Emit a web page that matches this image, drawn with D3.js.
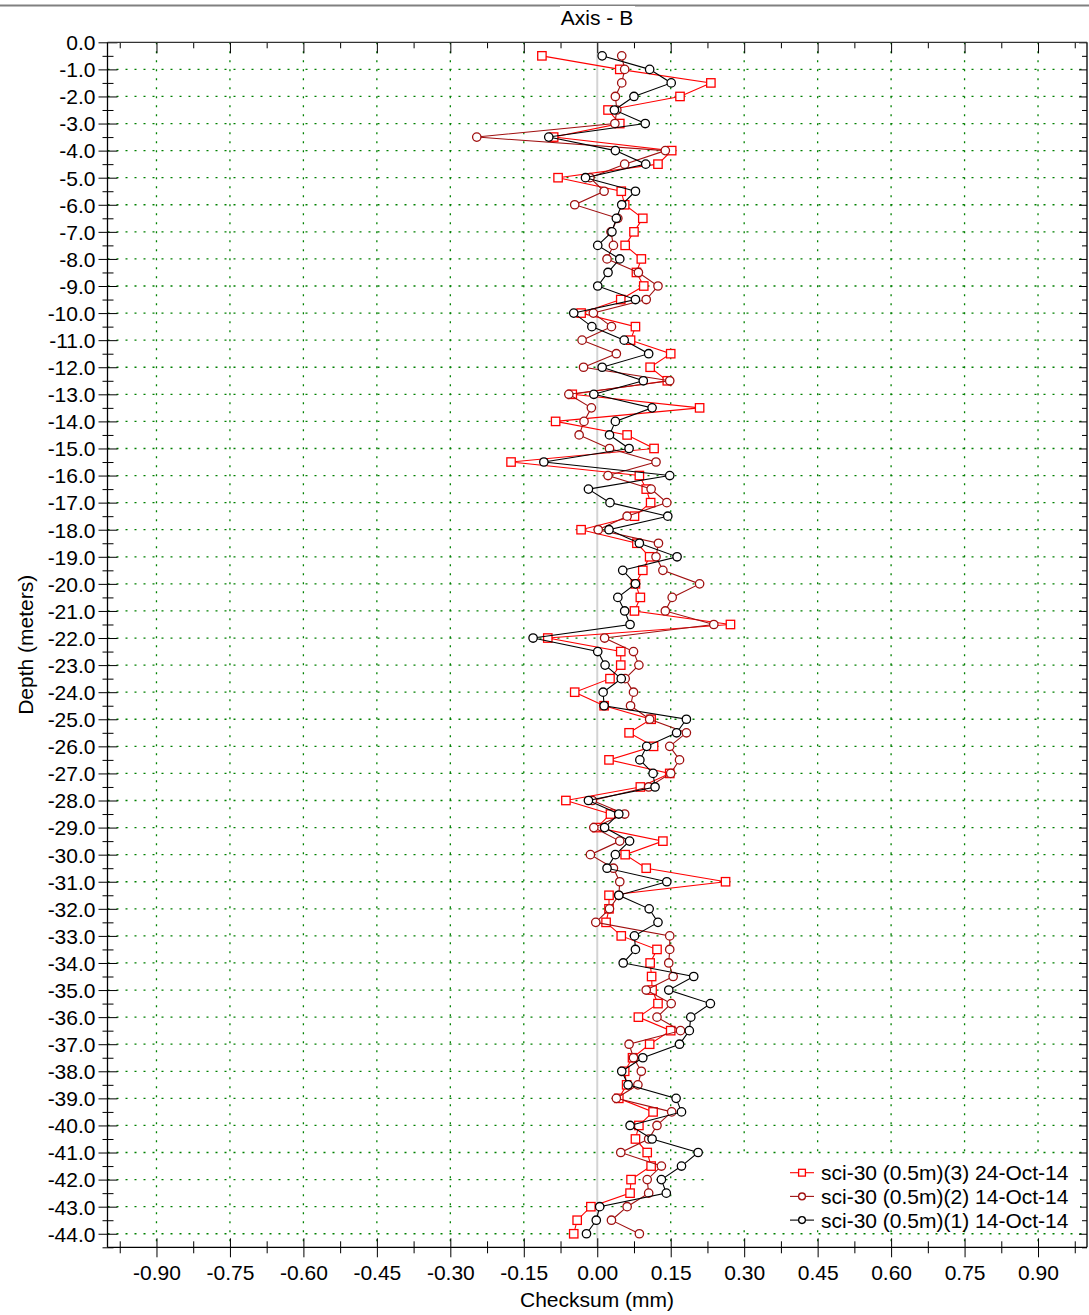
<!DOCTYPE html>
<html>
<head>
<meta charset="utf-8">
<script src="https://cdn.jsdelivr.net/npm/d3@7"></script>
<style>
  html, body { margin: 0; padding: 0; background: #fff; }
  svg { display: block; font-family: "Liberation Sans", Arial, sans-serif; }
</style>
</head>
<body>
<svg id="chart" width="1089" height="1315"></svg>
<script>
// Depth stations (m), every 0.5 m down the hole
const depths = [
  -0.5, -1.0, -1.5, -2.0, -2.5, -3.0, -3.5, -4.0, -4.5, -5.0,
  -5.5, -6.0, -6.5, -7.0, -7.5, -8.0, -8.5, -9.0, -9.5, -10.0,
  -10.5, -11.0, -11.5, -12.0, -12.5, -13.0, -13.5, -14.0, -14.5, -15.0,
  -15.5, -16.0, -16.5, -17.0, -17.5, -18.0, -18.5, -19.0, -19.5, -20.0,
  -20.5, -21.0, -21.5, -22.0, -22.5, -23.0, -23.5, -24.0, -24.5, -25.0,
  -25.5, -26.0, -26.5, -27.0, -27.5, -28.0, -28.5, -29.0, -29.5, -30.0,
  -30.5, -31.0, -31.5, -32.0, -32.5, -33.0, -33.5, -34.0, -34.5, -35.0,
  -35.5, -36.0, -36.5, -37.0, -37.5, -38.0, -38.5, -39.0, -39.5, -40.0,
  -40.5, -41.0, -41.5, -42.0, -42.5, -43.0, -43.5, -44.0
];

// Checksum readings (mm), one per depth station
const survey3 = [
  -0.113, 0.046, 0.232, 0.169, 0.022, 0.046, -0.089, 0.152, 0.124, -0.080,
  0.049, 0.056, 0.093, 0.075, 0.057, 0.090, 0.080, 0.095, 0.048, -0.033,
  0.078, 0.068, 0.150, 0.108, 0.143, -0.051, 0.209, -0.085, 0.061, 0.116,
  -0.176, 0.086, 0.100, 0.109, 0.076, -0.033, 0.081, 0.107, 0.093, 0.078,
  0.088, 0.076, 0.272, -0.101, 0.048, 0.048, 0.026, -0.046, 0.014, 0.110,
  0.065, 0.115, 0.024, 0.148, 0.088, -0.064, 0.027, -0.001, 0.134, 0.057,
  0.100, 0.262, 0.024, 0.024, 0.018, 0.049, 0.122, 0.108, 0.111, 0.112,
  0.124, 0.084, 0.150, 0.107, 0.072, 0.056, 0.060, 0.044, 0.114, 0.085,
  0.078, 0.102, 0.110, 0.069, 0.067, -0.013, -0.041, -0.048
];

const survey2 = [
  0.050, 0.056, 0.050, 0.037, 0.040, 0.036, -0.246, 0.139, 0.056, -0.015,
  0.014, -0.046, 0.042, 0.028, 0.033, 0.020, 0.084, 0.124, 0.100, -0.008,
  0.029, -0.031, 0.039, -0.028, 0.148, -0.058, -0.012, -0.027, -0.037, 0.025,
  0.120, 0.022, 0.110, 0.142, 0.061, 0.002, 0.125, 0.120, 0.134, 0.209,
  0.153, 0.139, 0.238, 0.015, 0.074, 0.085, 0.057, 0.074, 0.068, 0.107,
  0.182, 0.148, 0.168, 0.150, 0.105, -0.010, 0.056, -0.007, 0.046, -0.014,
  0.033, 0.046, 0.044, 0.025, -0.003, 0.148, 0.148, 0.146, 0.155, 0.100,
  0.151, 0.122, 0.170, 0.065, 0.074, 0.090, 0.083, 0.039, 0.152, 0.122,
  0.105, 0.048, 0.131, 0.102, 0.105, 0.061, 0.029, 0.086
];

const survey1 = [
  0.010, 0.107, 0.151, 0.075, 0.035, 0.098, -0.099, 0.037, 0.099, -0.024,
  0.078, 0.050, 0.039, 0.030, 0.001, 0.046, 0.022, 0.001, 0.078, -0.048,
  -0.011, 0.055, 0.105, 0.010, 0.094, -0.007, 0.112, 0.037, 0.025, 0.065,
  -0.109, 0.148, -0.018, 0.026, 0.144, 0.024, 0.086, 0.163, 0.052, 0.078,
  0.042, 0.056, 0.067, -0.131, 0.001, 0.016, 0.049, 0.012, 0.014, 0.182,
  0.162, 0.101, 0.087, 0.114, 0.118, -0.018, 0.044, 0.015, 0.066, 0.037,
  0.020, 0.142, 0.044, 0.106, 0.124, 0.076, 0.078, 0.053, 0.197, 0.146,
  0.231, 0.191, 0.188, 0.168, 0.093, 0.050, 0.063, 0.161, 0.172, 0.067,
  0.112, 0.206, 0.172, 0.131, 0.141, 0.005, -0.002, -0.022
];

const seriesNames = [
  "sci-30 (0.5m)(3) 24-Oct-14",
  "sci-30 (0.5m)(2) 14-Oct-14",
  "sci-30 (0.5m)(1) 14-Oct-14"
];

const xTickValues = [-0.90, -0.75, -0.60, -0.45, -0.30, -0.15, 0.00, 0.15, 0.30, 0.45, 0.60, 0.75, 0.90];
const xMinorTickValues = [-0.975, -0.825, -0.675, -0.525, -0.375, -0.225, -0.075, 0.075, 0.225, 0.375, 0.525, 0.675, 0.825, 0.975];
const yTickValues = d3.range(0, -45, -1);
const yMinorTickValues = d3.range(-0.5, -45, -1);

const series = [
  { name: seriesNames[0], values: survey3, color: "#ff0000", marker: "square" },
  { name: seriesNames[1], values: survey2, color: "#a01010", marker: "circle" },
  { name: seriesNames[2], values: survey1, color: "#000000", marker: "circle" }
];

const svg = d3.select("#chart");
const W = 1089, H = 1315;
const plot = { left: 107.5, right: 1087, top: 42.3, bottom: 1247.3 };
const FONT = 21;

const x = d3.scaleLinear().domain([-1, 1]).range([plot.left, plot.right]);
const y = d3.scaleLinear().domain([0, -44.5]).range([plot.top, plot.bottom]);

// tick labels use a plain hyphen for the sign
const hyphen = f => d => f(d).replace("\u2212", "-");
const fmtY = hyphen(d3.format(".1f"));
const fmtX = hyphen(d3.format(".2f"));

// Frame line across the top of the page
svg.append("line")
  .attr("x1", 0).attr("x2", W).attr("y1", 5.5).attr("y2", 5.5)
  .attr("stroke", "#808080").attr("stroke-width", 2);
svg.append("rect")
  .attr("x", 560).attr("y", 6).attr("width", 75).attr("height", 26)
  .attr("fill", "#fff");
svg.append("text")
  .attr("x", 597).attr("y", 25)
  .attr("text-anchor", "middle")
  .attr("font-size", FONT)
  .text("Axis - B");

// Dotted grid
const grid = svg.append("g").attr("stroke", "#008000").attr("stroke-width", 1.3)
  .attr("stroke-dasharray", "2,7");
grid.selectAll("line.gy")
  .data(yTickValues.filter(d => d !== 0))
  .join("line")
  .attr("x1", plot.left).attr("x2", plot.right)
  .attr("y1", d => y(d)).attr("y2", d => y(d));
grid.selectAll("line.gx")
  .data(xTickValues.filter(d => d !== 0))
  .join("line")
  .attr("class", "gx")
  .attr("y1", plot.top).attr("y2", plot.bottom)
  .attr("x1", d => x(d)).attr("x2", d => x(d));

// Zero reference line
svg.append("line")
  .attr("x1", x(0)).attr("x2", x(0))
  .attr("y1", plot.top).attr("y2", plot.bottom)
  .attr("stroke", "#d4d4d4").attr("stroke-width", 2);

// Axes
function styleAxis(g) {
  g.select(".domain").remove();
  g.selectAll("text").attr("font-size", FONT).attr("fill", "#000")
    .attr("font-family", "\"Liberation Sans\", Arial, sans-serif");
  g.selectAll("line").attr("stroke", "#000");
}

// left: major ticks cross the axis, labels every metre
const yAxisG = svg.append("g").attr("transform", `translate(${plot.left},0)`)
  .call(d3.axisLeft(y).tickValues(yTickValues).tickSize(9).tickPadding(3)
    .tickFormat(fmtY))
  .call(styleAxis);
yAxisG.selectAll(".tick line").attr("x1", 10).attr("x2", -9);
yAxisG.selectAll(".tick text").attr("x", -12).attr("dy", "0.35em");
svg.append("g").attr("transform", `translate(${plot.left},0)`)
  .call(d3.axisLeft(y).tickValues(yMinorTickValues).tickSize(5).tickFormat(""))
  .call(styleAxis)
  .selectAll(".tick line").attr("x1", 6).attr("x2", -5);

// right: inward ticks only
svg.append("g").attr("transform", `translate(${plot.right},0)`)
  .call(d3.axisLeft(y).tickValues(yTickValues).tickSize(8).tickFormat(""))
  .call(styleAxis)
  .selectAll(".tick line").attr("x1", 0).attr("x2", -8);
svg.append("g").attr("transform", `translate(${plot.right},0)`)
  .call(d3.axisLeft(y).tickValues(yMinorTickValues).tickSize(5).tickFormat(""))
  .call(styleAxis)
  .selectAll(".tick line").attr("x1", 0).attr("x2", -5);

// bottom: ticks cross the axis
const xAxisG = svg.append("g").attr("transform", `translate(0,${plot.bottom})`)
  .call(d3.axisBottom(x).tickValues(xTickValues).tickSize(10).tickPadding(4)
    .tickFormat(fmtX))
  .call(styleAxis);
xAxisG.selectAll(".tick line").attr("y1", -9).attr("y2", 10);
xAxisG.selectAll(".tick text").attr("y", 33).attr("dy", 0);
svg.append("g").attr("transform", `translate(0,${plot.bottom})`)
  .call(d3.axisBottom(x).tickValues(xMinorTickValues).tickSize(6).tickFormat(""))
  .call(styleAxis)
  .selectAll(".tick line").attr("y1", -6).attr("y2", 6);

// top: inward ticks only
svg.append("g").attr("transform", `translate(0,${plot.top})`)
  .call(d3.axisBottom(x).tickValues(xTickValues).tickSize(11).tickFormat(""))
  .call(styleAxis);
svg.append("g").attr("transform", `translate(0,${plot.top})`)
  .call(d3.axisBottom(x).tickValues(xMinorTickValues).tickSize(6).tickFormat(""))
  .call(styleAxis);

// Frame lines
const frame = svg.append("g").attr("stroke", "#000").attr("stroke-width", 1.3);
frame.append("line").attr("x1", plot.left).attr("x2", plot.left).attr("y1", plot.top).attr("y2", plot.bottom);
frame.append("line").attr("x1", plot.right).attr("x2", plot.right).attr("y1", plot.top).attr("y2", plot.bottom);
frame.append("line").attr("x1", plot.left).attr("x2", plot.right).attr("y1", plot.bottom).attr("y2", plot.bottom);
frame.append("line").attr("x1", plot.left).attr("x2", plot.right).attr("y1", plot.top).attr("y2", plot.top)
  .attr("stroke", "#333");

// Axis titles
svg.append("text")
  .attr("x", 597).attr("y", 1307)
  .attr("text-anchor", "middle").attr("font-size", FONT)
  .text("Checksum (mm)");
svg.append("text")
  .attr("transform", `translate(33,${(plot.top + plot.bottom) / 2}) rotate(-90)`)
  .attr("text-anchor", "middle").attr("font-size", FONT)
  .text("Depth (meters)");

// Series
const line = d3.line().x(d => x(d.v)).y(d => y(d.d));
function drawMarker(sel, s, size) {
  if (s.marker === "square") {
    sel.append("rect")
      .attr("x", -size).attr("y", -size)
      .attr("width", size * 2).attr("height", size * 2)
      .attr("fill", "#fff").attr("stroke", s.color).attr("stroke-width", 1.3);
  } else {
    sel.append("circle")
      .attr("r", size)
      .attr("fill", "#fff").attr("stroke", s.color).attr("stroke-width", 1.3);
  }
}

series.forEach(s => {
  const pts = depths.map((d, i) => ({ d, v: s.values[i] }));
  const g = svg.append("g");
  g.append("path").datum(pts)
    .attr("d", line)
    .attr("fill", "none").attr("stroke", s.color).attr("stroke-width", 1.1);
  g.selectAll("g.m").data(pts).join("g")
    .attr("transform", d => `translate(${x(d.v)},${y(d.d)})`)
    .each(function () { drawMarker(d3.select(this), s, 4.2); });
});

// Legend
const legend = svg.append("g");
legend.append("rect")
  .attr("x", 708).attr("y", 1157).attr("width", 372).attr("height", 72)
  .attr("fill", "#fff");
series.forEach((s, i) => {
  const cy = 1172.7 + i * 23.7;
  const row = legend.append("g");
  row.append("line").attr("x1", 790).attr("x2", 814).attr("y1", cy).attr("y2", cy)
    .attr("stroke", s.color).attr("stroke-width", 1.1);
  const m = row.append("g").attr("transform", `translate(802,${cy})`);
  drawMarker(m, s, 3.4);
  row.append("text").attr("x", 821).attr("y", cy + 7.5)
    .attr("font-size", FONT).text(s.name);
});
</script>
</body>
</html>
